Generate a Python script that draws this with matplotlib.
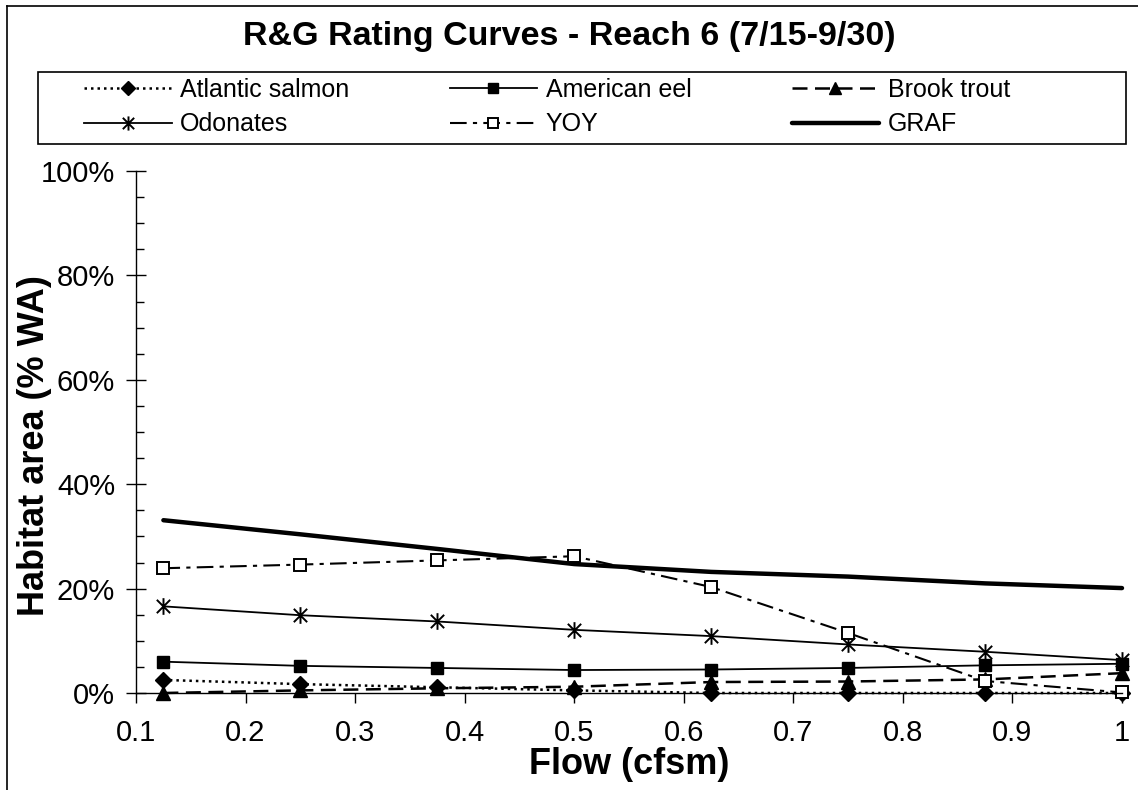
import matplotlib
matplotlib.use("Agg")
import matplotlib.pyplot as plt
from matplotlib.path import Path
from matplotlib.patches import Rectangle
from matplotlib.ticker import MultipleLocator, FuncFormatter

plt.rcParams['font.family'] = ['Liberation Sans', 'DejaVu Sans']

flow = [0.125, 0.25, 0.375, 0.5, 0.625, 0.75, 0.875, 1.0]
atlantic_salmon = [2.5, 1.7, 1.1, 0.5, 0.0, 0.0, 0.0, 0.0]
american_eel = [6.0, 5.2, 4.8, 4.4, 4.5, 4.8, 5.3, 5.6]
brook_trout = [0.0, 0.5, 0.9, 1.2, 2.1, 2.2, 2.6, 3.8]
odonates = [16.6, 14.9, 13.7, 12.1, 10.9, 9.3, 7.9, 6.3]
yoy = [23.9, 24.6, 25.4, 26.2, 20.3, 11.5, 2.3, 0.1]
graf = [33.1, 30.4, 27.6, 24.7, 23.2, 22.3, 21.0, 20.1]

W, H = 1138, 790
fig = plt.figure(figsize=(W / 100, H / 100), dpi=100)
ax = fig.add_axes([136 / W, 1 - 693 / H, (1122 - 136) / W, (693 - 171) / H])

star = Path([(-1, -1), (1, 1), (-1, 1), (1, -1), (0, -1.25), (0, 1.25)],
            [Path.MOVETO, Path.LINETO, Path.MOVETO, Path.LINETO, Path.MOVETO, Path.LINETO])

h_as, = ax.plot(flow, atlantic_salmon, color='black', lw=1.8, ls=(0, (1.0, 1.6)),
                marker='D', ms=8, mfc='black', mec='black', label='Atlantic salmon')
h_ae, = ax.plot(flow, american_eel, color='black', lw=1.3, ls='-',
                marker='s', ms=9, mfc='black', mec='black', label='American eel')
h_bt, = ax.plot(flow, brook_trout, color='black', lw=1.8, ls=(0, (6, 3)),
                marker='^', ms=10, mfc='black', mec='black', label='Brook trout')
h_od, = ax.plot(flow, odonates, color='black', lw=1.3, ls='-',
                marker=star, ms=12, mew=1.4, mfc='none', mec='black', label='Odonates')
h_yoy, = ax.plot(flow, yoy, color='black', lw=1.5, ls=(0, (8, 3, 2, 3)),
                 marker='s', ms=9, mfc='white', mec='black', mew=1.4, label='YOY')
h_graf, = ax.plot(flow, graf, color='black', lw=3.2, ls='-', label='GRAF',
                  solid_capstyle='round')

ax.set_xlim(0.1, 1.0)
ax.set_ylim(0, 100)
ax.xaxis.set_major_locator(MultipleLocator(0.1))
ax.xaxis.set_major_formatter(FuncFormatter(lambda v, p: "1" if abs(v - 1) < 1e-9 else f"{v:.1f}"))
ax.yaxis.set_major_locator(MultipleLocator(20))
ax.yaxis.set_minor_locator(MultipleLocator(5))
ax.yaxis.set_major_formatter(FuncFormatter(lambda v, p: f"{int(round(v))}%"))

for s in ['top', 'right']:
    ax.spines[s].set_visible(False)
for s in ['left', 'bottom']:
    ax.spines[s].set_linewidth(1.0)
    ax.spines[s].set_color('black')

ax.tick_params(axis='x', which='major', direction='out', length=7, width=1, labelsize=21, pad=12)
ax.tick_params(axis='y', which='major', direction='inout', length=14, width=1, labelsize=21, pad=8)
ax.tick_params(axis='y', which='minor', direction='in', length=6, width=1)
for ln in ax.lines:
    ln.set_clip_on(False)

ax.set_xlabel('Flow (cfsm)', fontsize=26, fontweight='bold', labelpad=0)
ax.set_ylabel('Habitat area (% WA)', fontsize=26, fontweight='bold')
ax.yaxis.set_label_coords((52 - 136) / 986, (693 - 446) / 522)

fig.text(0.5, 1 - 36 / H, 'R&G Rating Curves - Reach 6 (7/15-9/30)', ha='center', va='center',
         fontsize=24.5, fontweight='bold')

# legend frame
fig.add_artist(Rectangle((38 / W, 1 - 144 / H), (1126 - 38) / W, (144 - 72) / H,
                         transform=fig.transFigure, fill=False, edgecolor='black', lw=1.2))

handles = [h_as, h_od, h_ae, h_yoy, h_bt, h_graf]
leg = fig.legend(handles=handles, labels=[h.get_label() for h in handles], ncol=3,
                 loc='center left',
                 bbox_to_anchor=(84 / W, 1 - 107 / H),
                 bbox_transform=fig.transFigure, borderaxespad=0, frameon=False,
                 fontsize=18, handlelength=3.5, handletextpad=0.35, borderpad=0.0,
                 labelspacing=0.42, columnspacing=4.0, markerscale=0.85)

# outer chart border (top and left)
fig.add_artist(plt.Line2D([7 / W, 1.0], [1 - 6 / H, 1 - 6 / H], transform=fig.transFigure,
                          color='black', lw=1.2))
fig.add_artist(plt.Line2D([7 / W, 7 / W], [0, 1 - 6 / H], transform=fig.transFigure,
                          color='black', lw=1.2))

fig.savefig('out.png', dpi=100, facecolor='white')
